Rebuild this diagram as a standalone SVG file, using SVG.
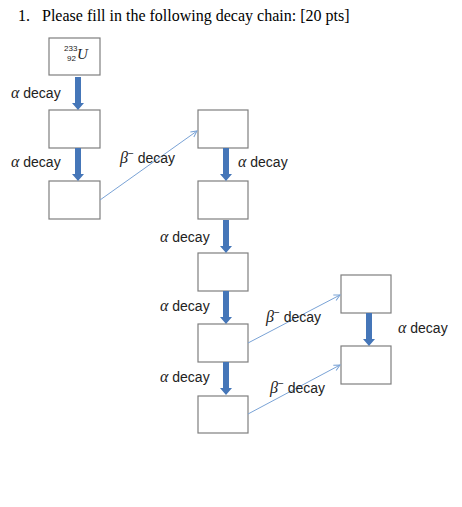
<svg xmlns="http://www.w3.org/2000/svg" width="462" height="507" viewBox="0 0 462 507">
<style>
.box{fill:#fff;stroke:#7f7f7f;stroke-width:1.2}
.thick{fill:#4576b8}
.beta{stroke:#7aa3d6;stroke-width:1;fill:none}
.lbl{font-family:"Liberation Sans",Arial,sans-serif;font-size:14px;fill:#222}
.gr{font-family:"Liberation Serif","Times New Roman",serif;font-style:italic}
.title{font-family:"Liberation Serif","Times New Roman",serif;font-size:16px;fill:#000}
.iso{font-family:"Liberation Sans",Arial,sans-serif;font-size:8px;fill:#222}
</style>
<defs>
<marker id="ah" markerWidth="8" markerHeight="8" refX="7" refY="4" orient="auto" markerUnits="userSpaceOnUse">
<path d="M1,1 L7,4 L1,7" fill="none" stroke="#7aa3d6" stroke-width="1"/>
</marker>
<path id="dn" d="M-3,0 L3,0 L3,26 L6,26 L0,33 L-6,26 L-3,26 Z"/>
</defs>
<text class="title" x="18" y="21">1.<tspan x="42">Please fill in the following decay chain: [20 pts]</tspan></text>

<g id="n1"><rect class="box" x="49" y="38" width="51" height="37"/>
<text class="iso" x="64" y="51">233</text>
<text class="iso" x="67" y="60.5">92</text>
<text x="77" y="59" font-family="Liberation Serif,serif" font-style="italic" font-size="15" fill="#222">U</text></g>
<g id="n2"><rect class="box" x="49" y="110" width="51" height="38"/></g>
<g id="n3"><rect class="box" x="49" y="181" width="51" height="38"/></g>
<g id="n4"><rect class="box" x="198" y="110" width="50" height="38"/></g>
<g id="n5"><rect class="box" x="198" y="181" width="50" height="38"/></g>
<g id="n6"><rect class="box" x="198" y="253" width="50" height="38"/></g>
<g id="n7"><rect class="box" x="198" y="324" width="50" height="38"/></g>
<g id="n8"><rect class="box" x="198" y="396" width="50" height="37"/></g>
<g id="n9"><rect class="box" x="341" y="275" width="50" height="38"/></g>
<g id="n10"><rect class="box" x="341" y="346" width="50" height="38"/></g>

<g id="connectors">
<use href="#dn" class="thick" x="78" y="77"/>
<use href="#dn" class="thick" x="78" y="148"/>
<use href="#dn" class="thick" x="226" y="148"/>
<use href="#dn" class="thick" x="226" y="220"/>
<use href="#dn" class="thick" x="226" y="291"/>
<use href="#dn" class="thick" x="226" y="362"/>
<use href="#dn" class="thick" x="369" y="313"/>
<line class="beta" x1="100" y1="200" x2="197" y2="131" marker-end="url(#ah)"/>
<line class="beta" x1="248" y1="343" x2="340" y2="295" marker-end="url(#ah)"/>
<line class="beta" x1="248" y1="414" x2="340" y2="365" marker-end="url(#ah)"/>
</g>

<g id="labels">
<text class="lbl" x="11" y="98"><tspan class="gr" font-size="16">α</tspan> decay</text>
<text class="lbl" x="11" y="167"><tspan class="gr" font-size="16">α</tspan> decay</text>
<text class="lbl" x="120" y="163"><tspan class="gr" font-size="16">β</tspan><tspan font-size="10" dy="-6">−</tspan><tspan dy="6"> decay</tspan></text>
<text class="lbl" x="238" y="167"><tspan class="gr" font-size="16">α</tspan> decay</text>
<text class="lbl" x="160" y="242"><tspan class="gr" font-size="16">α</tspan> decay</text>
<text class="lbl" x="160" y="311"><tspan class="gr" font-size="16">α</tspan> decay</text>
<text class="lbl" x="266" y="322"><tspan class="gr" font-size="16">β</tspan><tspan font-size="10" dy="-6">−</tspan><tspan dy="6"> decay</tspan></text>
<text class="lbl" x="398" y="333"><tspan class="gr" font-size="16">α</tspan> decay</text>
<text class="lbl" x="160" y="382"><tspan class="gr" font-size="16">α</tspan> decay</text>
<text class="lbl" x="270" y="393"><tspan class="gr" font-size="16">β</tspan><tspan font-size="10" dy="-6">−</tspan><tspan dy="6"> decay</tspan></text>
</g>
</svg>
